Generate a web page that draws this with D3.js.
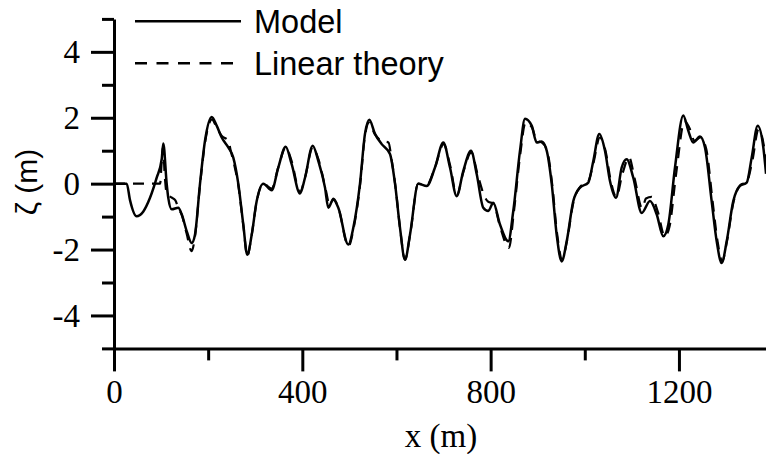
<!DOCTYPE html>
<html>
<head>
<meta charset="utf-8">
<script src="https://cdn.jsdelivr.net/npm/d3@7/dist/d3.min.js"></script>
<style>
  html, body { margin: 0; padding: 0; background: #fff; overflow: hidden; }
  svg { display: block; }
</style>
</head>
<body>
<svg id="chart" width="766" height="454"></svg>
<script>
// Free-surface elevation ζ along the channel, x in metres
const modelProfile = [
  [0,0],[27,0],[34,-0.5],[48,-0.99],[62,-0.85],[76.5,-0.43],[90.7,0.18],[101.3,0.74],[104.7,1.22],
  [111.9,0],[115.3,-0.43],[122.6,-0.78],[136.6,-0.73],[143.8,-0.93],[154.4,-1.44],[165,-1.8],[172,-1.55],
  [182.7,0],[193.3,1.3],[207.5,2.02],[218.1,1.76],[228.8,1.4],[242.8,1.1],[253.4,0.79],[264,0],
  [274.6,-1.24],[283.1,-2.16],[292.5,-1.55],[303.1,-0.53],[317.1,0],[335,-0.2],[349,0.49],[364.7,1.12],
  [377.4,0.59],[395.1,-0.3],[405.7,0.18],[422.1,1.15],[433.9,0.69],[448.2,-0.12],[455.2,-0.73],
  [465.8,-0.48],[476.4,-0.73],[497.7,-1.85],[508.3,-1.34],[522.5,0],[533.1,1.51],[542.3,1.94],
  [554.4,1.51],[568.6,1.2],[586.2,0.9],[596.9,0],[607.5,-1.34],[618.1,-2.31],[628.7,-1.55],[646.3,0],
  [664.2,-0.07],[681.8,0.49],[699.5,1.25],[713.7,0.49],[727.9,-0.38],[742,0.39],[758.3,1.0],[770.4,0.29],
  [784.4,-0.73],[795,-0.83],[805.6,-0.58],[819.9,-1.24],[837.5,-1.75],[848.1,-0.83],[862.4,1.0],
  [873,1.97],[887.2,1.76],[897.8,1.25],[908.5,1.28],[919.1,1.0],[929.7,0],[940.3,-1.55],[950.9,-2.36],
  [961.6,-1.75],[975.6,-0.53],[989.8,-0.12],[1007.4,0.03],[1018.1,0.69],[1030.8,1.51],[1042.9,1.0],
  [1053.5,0.08],[1066.3,-0.43],[1078.4,0.49],[1089,0.74],[1103,0.18],[1120.9,-0.89],[1138.5,-0.53],
  [1152.7,-0.93],[1166.7,-1.6],[1177.4,-1.24],[1191.6,0.49],[1209.2,2.07],[1219.8,1.61],[1230.5,1.25],
  [1244.7,1.43],[1255.3,1.1],[1269.5,-0.53],[1280.2,-1.75],[1290.8,-2.41],[1301.4,-1.75],[1315.4,-0.53],
  [1329.7,-0.07],[1343.9,0.03],[1354.5,0.79],[1367.3,1.76],[1379.2,1.1],[1385,0.3]
];

const linearProfile = [
  [0,0],[98,0],[101,0.6],[104,1.1],[108,0.2],[112,-0.3],[122,-0.42],[130,-0.5],[137,-0.75],[144,-0.95],
  [154,-1.5],[165,-2.05],[172,-1.6],[183,0],[194,1.3],[208,1.95],[218,1.7],[229,1.45],[243,1.3],[248,1.0],
  [255,0.6],[264,-0.05],[275,-1.3],[283,-2.2],[292,-1.6],[303,-0.55],[317,0],[335,-0.15],[349,0.5],
  [365,1.1],[377,0.7],[395,-0.25],[406,0.2],[422,1.1],[434,0.75],[450,-0.2],[458,-0.65],[466,-0.45],
  [476,-0.7],[498,-1.9],[509,-1.35],[523,0],[533,1.45],[542,1.85],[554,1.5],[569,1.3],[583,1.25],
  [590,0.7],[598,-0.1],[608,-1.4],[618,-2.3],[629,-1.55],[646,0],[664,-0.05],[682,0.5],[700,1.2],
  [714,0.55],[728,-0.35],[742,0.35],[759,0.95],[772,0.3],[786,-0.35],[795,-0.55],[806,-0.6],[820,-1.3],
  [839,-1.95],[849,-0.9],[863,0.9],[874,1.85],[888,1.7],[898,1.3],[909,1.25],[920,1.0],[931,-0.05],
  [941,-1.5],[952,-2.3],[962,-1.75],[976,-0.55],[990,-0.1],[1007,0.05],[1018,0.6],[1032,1.4],[1044,1.0],
  [1055,0.1],[1067,-0.4],[1080,0.3],[1094,0.8],[1106,0.15],[1122,-0.75],[1130,-0.45],[1142,-0.4],
  [1155,-0.85],[1170,-1.6],[1180,-1.3],[1194,0.3],[1212,1.9],[1222,1.7],[1233,1.3],[1246,1.4],
  [1258,1.05],[1272,-0.6],[1282,-1.75],[1292,-2.35],[1302,-1.75],[1316,-0.55],[1330,-0.05],[1344,0.05],
  [1356,0.7],[1369,1.65],[1381,1.1],[1388,0.3]
];

const xMajorTicks = [0, 400, 800, 1200];
const xMinorTicks = [200, 600, 1000, 1400];
const yMajorTicks = [-4, -2, 0, 2, 4];
const yMinorTicks = [-5, -3, -1, 1, 3, 5];
const legendLabels = ["Model", "Linear theory"];
const xTitle = "x (m)";
const yTitle = "ζ (m)";

const svg = d3.select("#chart");
const plotLeft = 114, plotRight = 773.1, plotTop = 18.9, plotBottom = 348.4;

const x = d3.scaleLinear().domain([0, 1400]).range([plotLeft, plotRight]);
const y = d3.scaleLinear().domain([-5, 5]).range([plotBottom, plotTop]);

const serif = "'Liberation Serif', 'Times New Roman', serif";
const sans = "'Liberation Sans', Arial, sans-serif";

// Profiles
const line = d3.line()
  .x(d => x(d[0]))
  .y(d => y(d[1]))
  .curve(d3.curveMonotoneX);

svg.append("path")
  .datum(linearProfile)
  .attr("d", line)
  .attr("fill", "none")
  .attr("stroke", "#000")
  .attr("stroke-width", 2.2)
  .attr("stroke-dasharray", "11,8");

svg.append("path")
  .datum(modelProfile)
  .attr("d", line)
  .attr("fill", "none")
  .attr("stroke", "#000")
  .attr("stroke-width", 2.5)
  .attr("stroke-linejoin", "round");

// Axes: major ticks carry labels, minor ticks are shorter
function styleAxis(g) {
  g.attr("font-family", serif);
  g.selectAll("path.domain").attr("stroke", "#000").attr("stroke-width", 3);
  g.selectAll(".tick line").attr("stroke", "#000").attr("stroke-width", 3);
}

const xMinor = svg.append("g")
  .attr("transform", `translate(0,${plotBottom})`)
  .call(d3.axisBottom(x).tickValues(xMinorTicks).tickSize(12).tickSizeOuter(0).tickFormat(""));
xMinor.select("path.domain").remove();
styleAxis(xMinor);

const xAxis = svg.append("g")
  .attr("transform", `translate(0,${plotBottom})`)
  .call(d3.axisBottom(x).tickValues(xMajorTicks).tickSize(23).tickSizeOuter(0).tickPadding(8)
    .tickFormat(d => String(d)));
styleAxis(xAxis);
xAxis.selectAll(".tick text")
  .attr("font-family", serif)
  .attr("font-size", 33)
  .attr("fill", "#000");

const yMinor = svg.append("g")
  .attr("transform", `translate(${plotLeft},0)`)
  .call(d3.axisLeft(y).tickValues(yMinorTicks).tickSize(12).tickSizeOuter(0).tickFormat(""));
yMinor.select("path.domain").remove();
styleAxis(yMinor);

const yAxis = svg.append("g")
  .attr("transform", `translate(${plotLeft},0)`)
  .call(d3.axisLeft(y).tickValues(yMajorTicks).tickSize(23).tickSizeOuter(0).tickPadding(11)
    .tickFormat(d => d < 0 ? "-" + Math.abs(d) : String(d)));
styleAxis(yAxis);
yAxis.selectAll(".tick text")
  .attr("font-family", serif)
  .attr("font-size", 33)
  .attr("fill", "#000");

// Axis titles
svg.append("text")
  .attr("x", 441)
  .attr("y", 447)
  .attr("text-anchor", "middle")
  .attr("font-family", serif)
  .attr("font-size", 33)
  .text(xTitle);

svg.append("text")
  .attr("transform", "translate(37,182) rotate(-90)")
  .attr("text-anchor", "middle")
  .attr("font-family", sans)
  .attr("font-size", 30)
  .text(yTitle);

// Legend
const legend = svg.append("g");
const legendRows = [
  { label: legendLabels[0], dash: null, ly: 21.3, ty: 32.5 },
  { label: legendLabels[1], dash: "12,9.5", ly: 63.3, ty: 74.5 }
];
legendRows.forEach(r => {
  legend.append("line")
    .attr("x1", 135).attr("x2", 241)
    .attr("y1", r.ly).attr("y2", r.ly)
    .attr("stroke", "#000")
    .attr("stroke-width", 2.5)
    .attr("stroke-dasharray", r.dash);
  legend.append("text")
    .attr("x", 254)
    .attr("y", r.ty)
    .attr("font-family", sans)
    .attr("font-size", 32.5)
    .text(r.label);
});
</script>
</body>
</html>
